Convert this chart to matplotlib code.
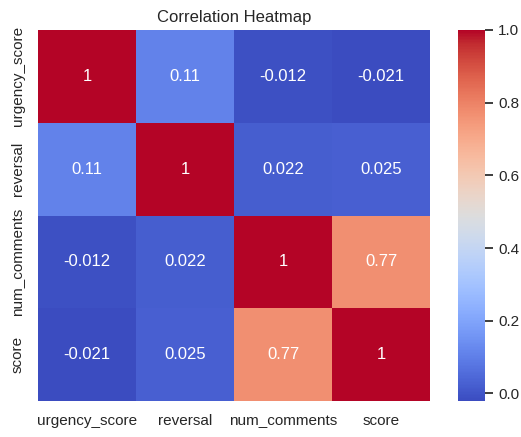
import matplotlib
matplotlib.use("Agg")
import matplotlib.pyplot as plt
import seaborn as sns
import pandas as pd

labels = ["urgency_score", "reversal", "num_comments", "score"]
row_urgency = [1, 0.11, -0.012, -0.021]
row_reversal = [0.11, 1, 0.022, 0.025]
row_comments = [-0.012, 0.022, 1, 0.77]
row_score = [-0.021, 0.025, 0.77, 1]

df = pd.DataFrame([row_urgency, row_reversal, row_comments, row_score], index=labels, columns=labels)

sns.set_theme()
plt.rcParams['font.family'] = ['Liberation Sans', 'DejaVu Sans']
W, H = 521, 437
fig = plt.figure(figsize=(W / 100, H / 100), dpi=100)
ax = fig.add_axes([38 / W, 1 - 401 / H, (430 - 38) / W, (401 - 30) / H])
cax = fig.add_axes([458 / W, 1 - 401 / H, (485 - 458) / W, (401 - 30) / H])
sns.heatmap(df, annot=True, cmap="coolwarm", ax=ax, cbar_ax=cax)
ax.set_title("Correlation Heatmap")
ax.tick_params(axis='x', rotation=0)
ax.tick_params(axis='y', rotation=90)
for t in ax.get_yticklabels():
    t.set_va('center')
fig.savefig("out.png", dpi=100)
